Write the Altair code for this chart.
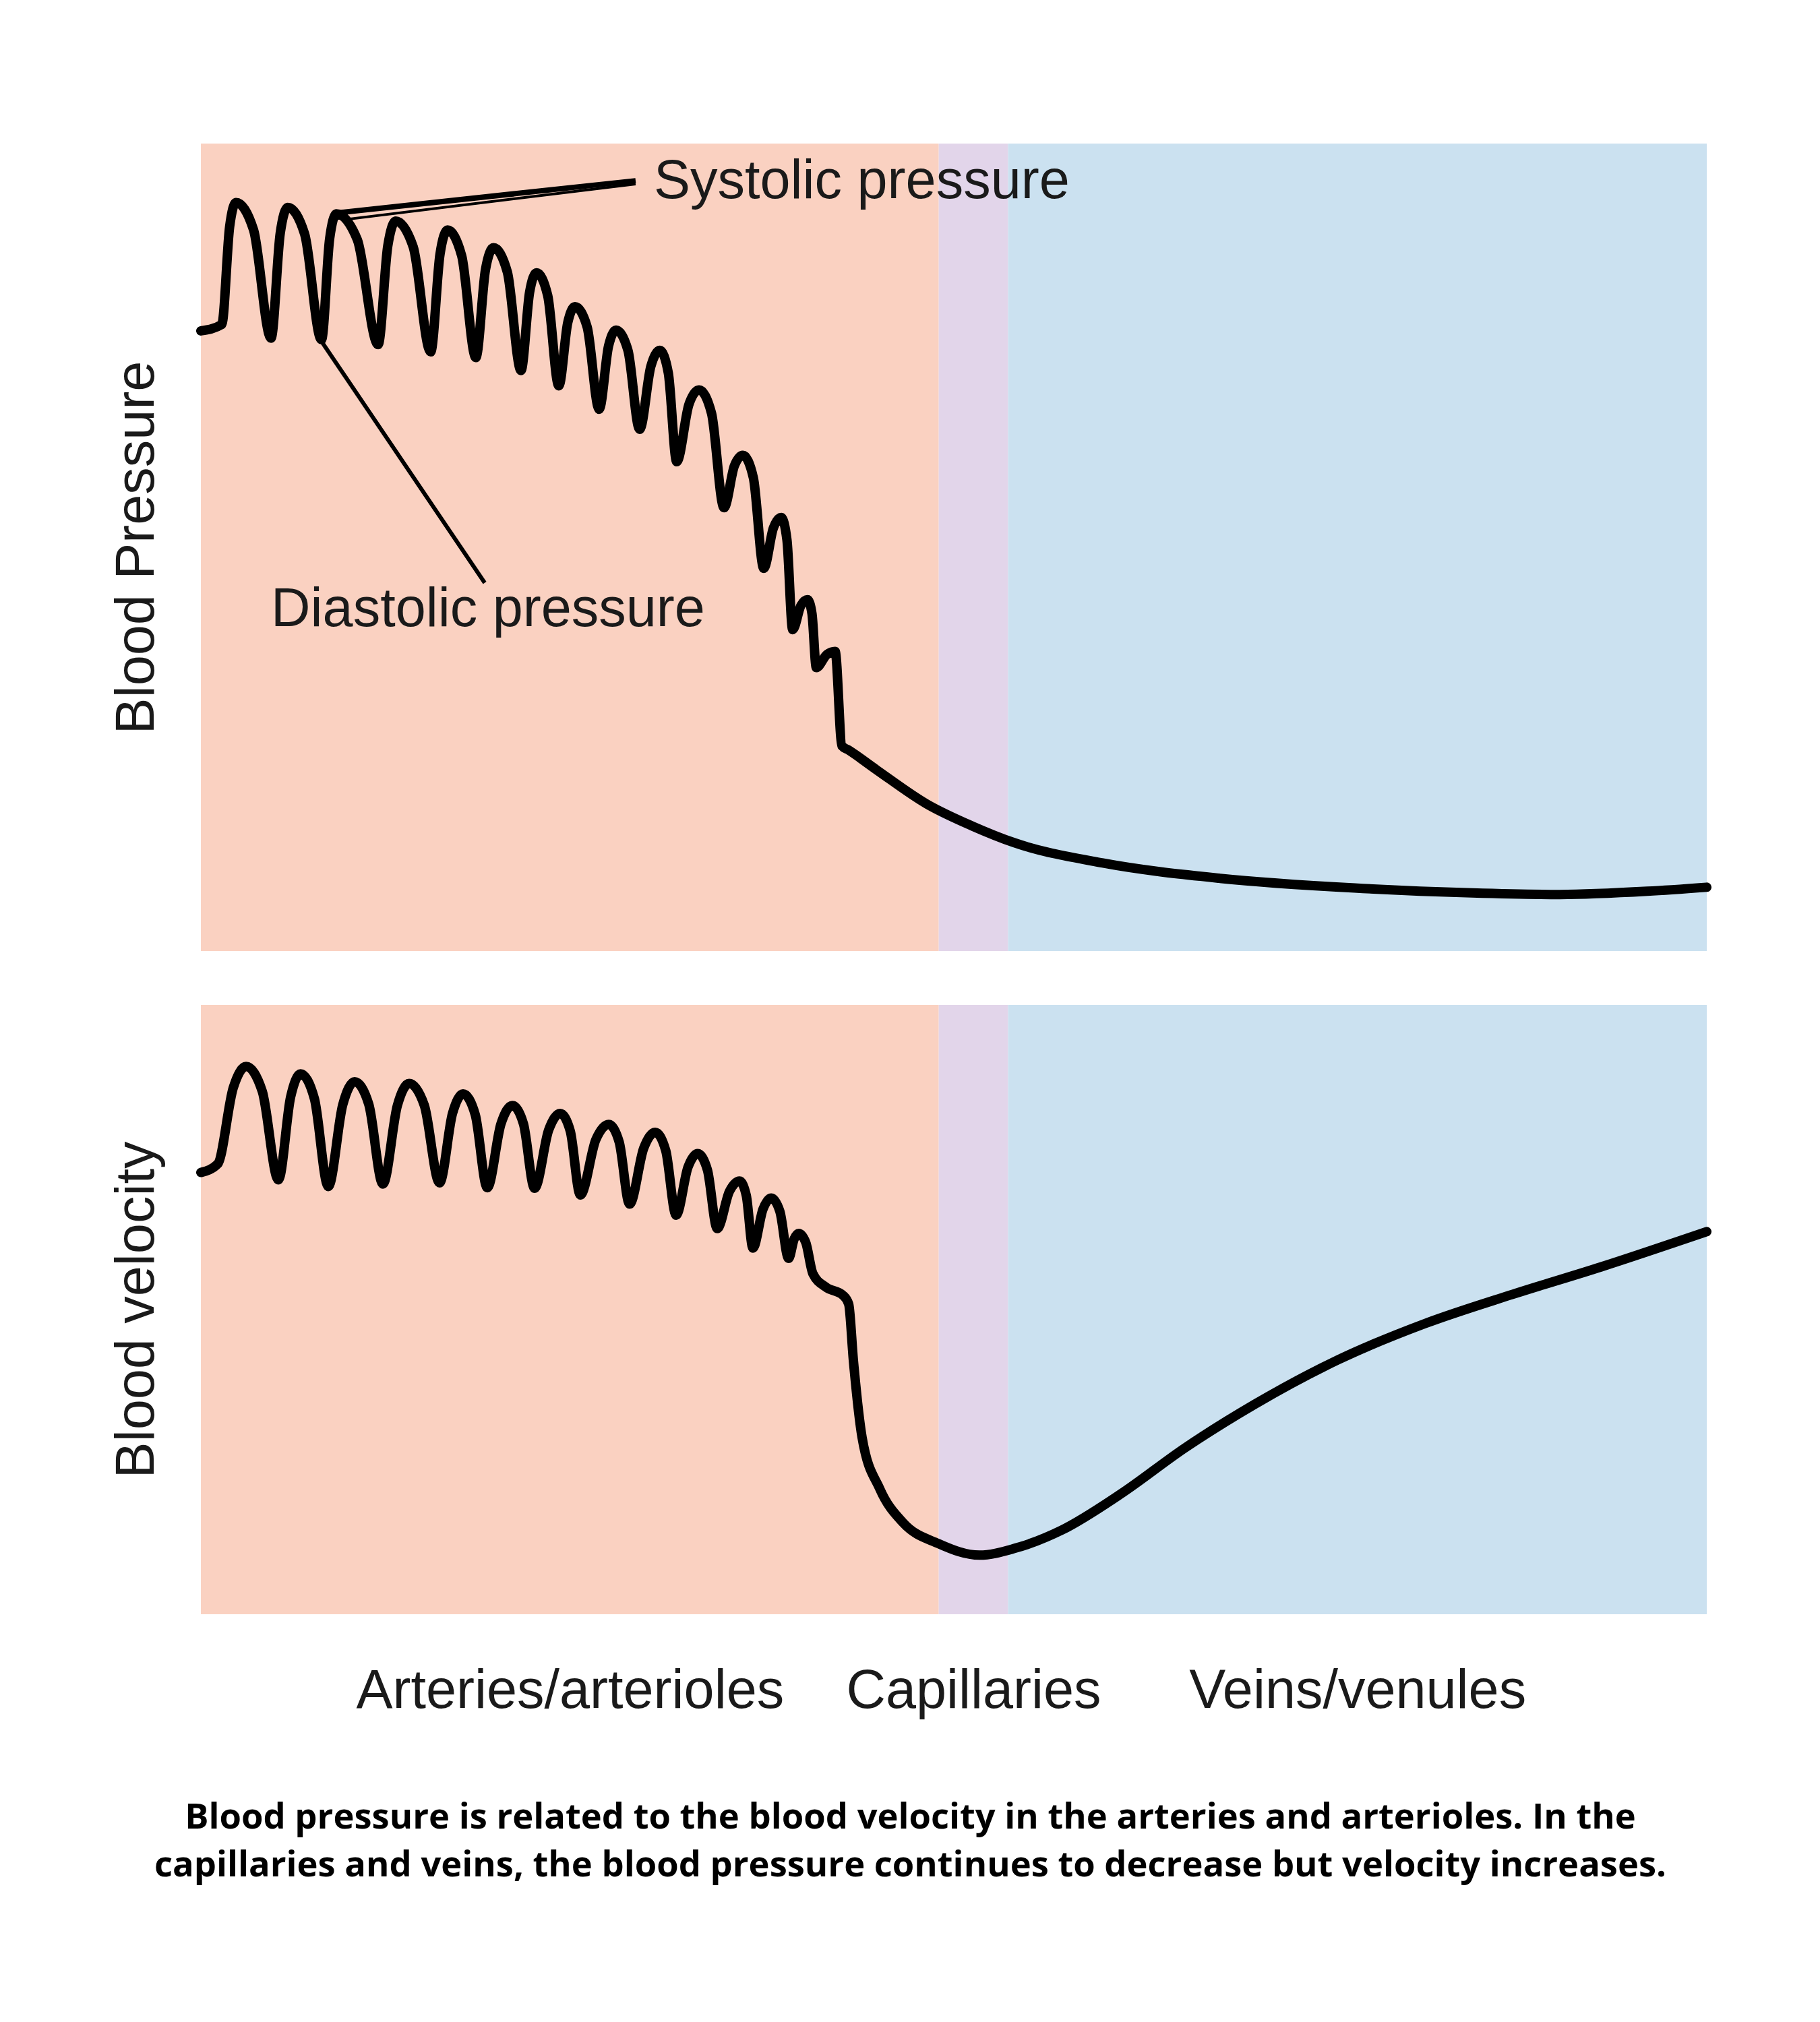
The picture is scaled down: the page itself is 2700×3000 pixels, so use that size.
import altair as alt
import pandas as pd

# ---------------- data ----------------
region_names = ["Arteries/arterioles", "Capillaries", "Veins/venules"]
region_start = [0.0, 49.0, 53.6]
region_end = [49.0, 53.6, 100.0]
region_colors = ["#FAD1C1", "#E2D5EA", "#CBE1F0"]

# blood pressure trace (position along circulation 0-100, pressure 0-100)
pressure_pos = [0.0, 1.39, 1.91, 2.33, 3.50, 4.66, 5.27, 5.77, 6.89, 8.01,
                8.55, 9.00, 10.39, 11.77, 12.41, 12.94, 14.10, 15.26, 15.88, 16.38,
                17.32, 18.26, 18.90, 19.43, 20.35, 21.26, 21.83, 22.29, 23.03, 23.77,
                24.36, 24.84, 25.65, 26.45, 27.07, 27.57, 28.36, 29.14, 29.88, 30.48,
                31.04, 31.60, 32.41, 33.08, 33.91, 34.74, 35.43, 35.99, 36.69, 37.38,
                38.02, 38.54, 38.92, 39.30, 39.85, 40.29, 40.58, 40.87, 41.56, 42.12,
                42.57, 43.0, 44.9, 48.21, 51.2, 54.03, 59.89, 67.68, 76.63, 84.42,
                90.24, 96.06, 100.0]
pressure_val = [76.8, 77.6, 89.7, 92.7, 89.3, 75.9, 88.9, 92.1, 88.8, 75.7,
                88.2, 91.3, 88.1, 75.1, 87.3, 90.4, 87.2, 74.2, 86.3, 89.3,
                86.1, 73.5, 84.4, 87.1, 84.1, 71.9, 81.6, 84.0, 81.2, 70.0,
                77.8, 79.8, 77.3, 67.1, 74.9, 76.9, 74.4, 64.6, 72.4, 74.4,
                71.6, 60.6, 67.7, 69.5, 66.6, 54.9, 60.1, 61.4, 58.6, 47.4,
                52.4, 53.7, 50.9, 39.8, 42.8, 43.5, 41.8, 35.1, 36.7, 37.1,
                25.4, 24.9, 22.4, 18.2, 15.5, 13.4, 10.9, 9.0, 7.8, 7.2,
                7.0, 7.4, 7.9]

# blood velocity trace
velocity_pos = [0.0, 1.12, 2.15, 3.0, 4.08, 5.15, 5.96, 6.62, 7.54, 8.46,
                9.42, 10.21, 11.15, 12.09, 13.05, 13.83, 14.84, 15.85, 16.71, 17.41,
                18.22, 19.02, 19.93, 20.68, 21.42, 22.16, 23.10, 23.86, 24.53, 25.20,
                26.23, 27.08, 27.78, 28.47, 29.41, 30.17, 30.87, 31.56, 32.35, 32.99,
                33.64, 34.29, 35.10, 35.77, 36.22, 36.66, 37.33, 37.87, 38.45, 39.03,
                39.40, 39.70, 40.17, 40.64, 41.50, 42.66, 43.02, 43.33, 43.91, 45.08,
                46.64, 48.97, 51.70, 54.03, 57.16, 61.06, 65.35, 70.01, 75.47, 81.29,
                87.11, 92.97, 100.0]
velocity_val = [72.5, 73.9, 86.4, 89.9, 85.8, 71.3, 84.9, 88.7, 84.6, 70.2,
                83.6, 87.4, 83.7, 70.6, 83.5, 87.1, 83.5, 70.8, 82.2, 85.4,
                82.0, 70.0, 80.5, 83.5, 80.5, 69.9, 79.5, 82.2, 79.3, 68.8,
                77.9, 80.4, 77.5, 67.3, 76.5, 79.1, 76.1, 65.5, 73.4, 75.6,
                72.9, 63.3, 69.4, 71.1, 68.7, 60.1, 66.5, 68.3, 66.1, 58.4,
                61.6, 62.5, 61.0, 55.9, 53.7, 52.3, 50.9, 41.7, 29.0, 20.6,
                15.0, 11.6, 9.7, 10.8, 13.8, 19.7, 27.3, 34.5, 41.7, 47.7,
                52.5, 57.0, 62.8]

# annotations (in data units of the pressure panel)
ann_labels = ["Systolic pressure", "Diastolic pressure"]
ann_text_x = [30.08, 4.66]
ann_text_y = [93.2, 40.2]
ann_x1 = [8.95, 8.01]
ann_y1 = [91.4, 75.5]
ann_x2 = [28.87, 18.85]
ann_y2 = [95.4, 45.6]
sys_inner_x1, sys_inner_y1, sys_inner_x2, sys_inner_y2 = 9.62, 90.6, 28.87, 95.0

caption = ["Blood pressure is related to the blood velocity in the arteries and arterioles. In the",
           "capillaries and veins, the blood pressure continues to decrease but velocity increases."]

# ---------------- tables ----------------
regions = pd.DataFrame({"name": region_names, "start": region_start, "end": region_end})
regions["mid"] = (regions["start"] + regions["end"]) / 2
pressure = pd.DataFrame({"pos": pressure_pos, "val": pressure_val})
velocity = pd.DataFrame({"pos": velocity_pos, "val": velocity_val})
ann = pd.DataFrame({"label": ann_labels, "tx": ann_text_x, "ty": ann_text_y,
                    "x1": ann_x1, "y1": ann_y1, "x2": ann_x2, "y2": ann_y2})
ann_inner = pd.DataFrame({"x1": [sys_inner_x1], "y1": [sys_inner_y1],
                          "x2": [sys_inner_x2], "y2": [sys_inner_y2]})

W, H1, H2 = 2234, 1198, 904
TXT = "#1a1a1a"
FONT = "Liberation Sans"
LW = 14

xscale = alt.Scale(domain=[0, 100], nice=False, zero=False)
yscale = alt.Scale(domain=[0, 100], nice=False, zero=False)
cscale = alt.Scale(domain=region_names, range=region_colors)


def yaxis(title, h):
    return alt.Axis(title=title, labels=False, ticks=False, domain=False, grid=False,
                    titleFont=FONT, titleFontSize=81, titleFontWeight="normal",
                    titleColor=TXT, titleAngle=270, titleAlign="center",
                    titleBaseline="alphabetic", titleX=-71, titleY=h / 2)


expr = "'" + region_names[-1] + "'"
for nm, end in zip(reversed(region_names[:-1]), reversed(region_end[:-1])):
    expr = f"datum.value < {end} ? '{nm}' : ({expr})"

xaxis_bottom = alt.Axis(values=list(regions["mid"]), labelExpr=expr,
                        labelFont=FONT, labelFontSize=81, labelColor=TXT,
                        labelBaseline="alphabetic", labelPadding=138, labelAlign="center",
                        labelLimit=0, labelOverlap=False, labelFlush=False,
                        ticks=False, tickSize=0, domain=False, grid=False,
                        title=caption, titleFont="Open Sans", titleFontWeight="bold",
                        titleFontSize=52.5, titleLineHeight=71, titleColor="black",
                        titleX=1052, titleY=317, titleAlign="center",
                        titleBaseline="alphabetic", titleLimit=2650)


def background(xaxis):
    return alt.Chart(regions).mark_rect().encode(
        x=alt.X("start:Q", scale=xscale, axis=xaxis),
        x2="end:Q",
        color=alt.Color("name:N", scale=cscale, legend=None),
    )


# ---- pressure panel ----
ya1 = yaxis("Blood Pressure", H1)
p_line = alt.Chart(pressure).mark_line(color="black", strokeWidth=LW, interpolate="monotone",
                                       strokeCap="round", strokeJoin="round").encode(
    x=alt.X("pos:Q", scale=xscale, axis=None),
    y=alt.Y("val:Q", scale=yscale, axis=ya1),
)
rules = alt.Chart(ann).mark_rule(color="black", strokeCap="butt").encode(
    x=alt.X("x1:Q", scale=xscale, axis=None),
    y=alt.Y("y1:Q", scale=yscale, axis=ya1),
    x2="x2:Q", y2="y2:Q",
    strokeWidth=alt.condition(alt.datum.label == "Systolic pressure", alt.value(8), alt.value(6)),
)
rule_inner = alt.Chart(ann_inner).mark_rule(color="black", strokeWidth=4).encode(
    x=alt.X("x1:Q", scale=xscale, axis=None),
    y=alt.Y("y1:Q", scale=yscale, axis=ya1),
    x2="x2:Q", y2="y2:Q",
)
texts = alt.Chart(ann).mark_text(font=FONT, fontSize=81, color=TXT, align="left",
                                 baseline="alphabetic").encode(
    x=alt.X("tx:Q", scale=xscale, axis=None),
    y=alt.Y("ty:Q", scale=yscale, axis=ya1),
    text="label:N",
)
top = alt.layer(background(None), rule_inner, rules, p_line, texts).properties(width=W, height=H1)

# ---- velocity panel ----
ya2 = yaxis("Blood velocity", H2)
v_line = alt.Chart(velocity).mark_line(color="black", strokeWidth=LW, interpolate="monotone",
                                       strokeCap="round", strokeJoin="round").encode(
    x=alt.X("pos:Q", scale=xscale, axis=xaxis_bottom),
    y=alt.Y("val:Q", scale=yscale, axis=ya2),
)
bottom = alt.layer(background(xaxis_bottom), v_line).properties(width=W, height=H2)

chart = alt.vconcat(top, bottom, spacing=80).properties(
    padding={"left": 153, "top": 205, "right": 10, "bottom": 10},
    background="white",
).configure_view(stroke=None)

chart.save("out.html", embed_options={"renderer": "svg", "actions": False})
